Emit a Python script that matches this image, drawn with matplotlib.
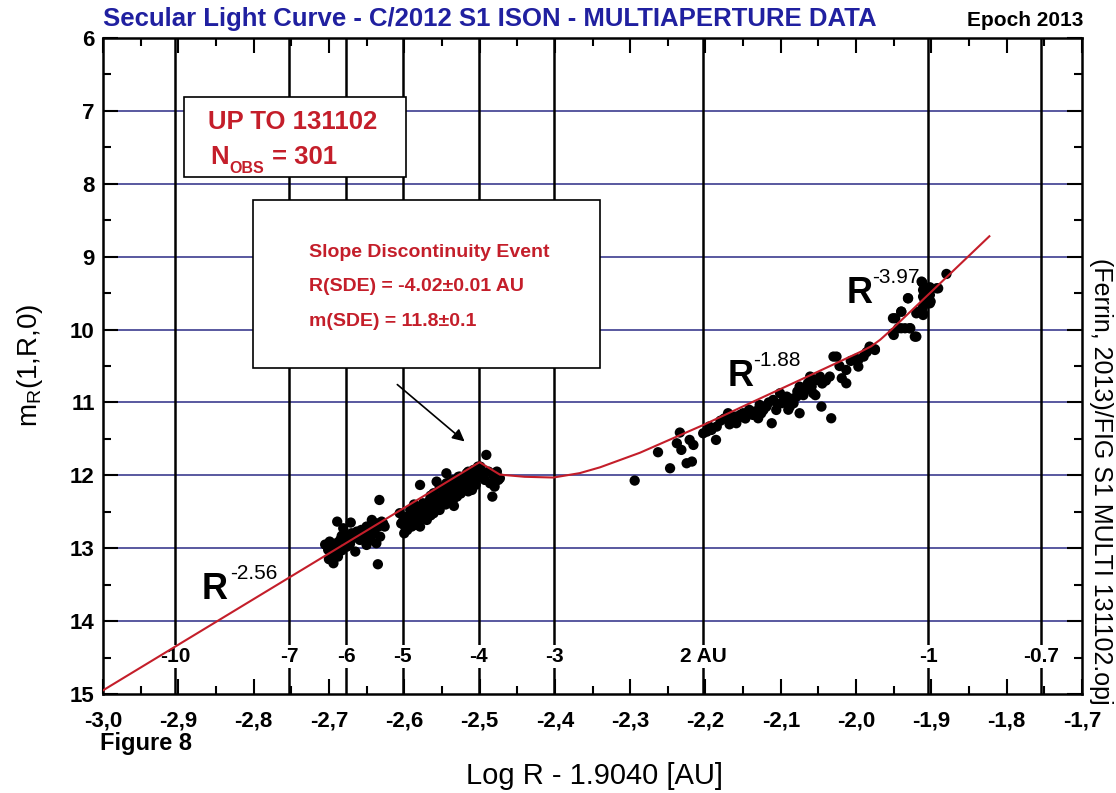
import matplotlib
matplotlib.use("Agg")
import matplotlib.pyplot as plt
from matplotlib.patches import Rectangle
from matplotlib.ticker import MultipleLocator, FuncFormatter

# observations: log R - 1.904, reduced magnitude
obs_x = [-2.689, -2.681, -2.671, -2.699, -2.692, -2.685, -2.676, -2.670, -2.663, -2.657,
         -2.650, -2.643, -2.637, -2.630, -2.626, -2.652, -2.645, -2.637, -2.650, -2.665,
         -2.694, -2.694, -2.688, -2.701, -2.676, -2.633, -2.635, -2.659, -2.639, -2.632,
         -2.705, -2.698, -2.690, -2.683, -2.678, -2.668, -2.661, -2.655, -2.647, -2.641,
         -2.634, -2.628, -2.683, -2.672, -2.700,
         -2.579, -2.606, -2.601, -2.599, -2.600, -2.592, -2.588, -2.584, -2.579, -2.575,
         -2.570, -2.566, -2.561, -2.557, -2.553, -2.548, -2.544, -2.539, -2.535, -2.530,
         -2.526, -2.522, -2.517, -2.513, -2.508, -2.504, -2.502, -2.534, -2.579, -2.570,
         -2.561, -2.553, -2.590, -2.584, -2.544, -2.530, -2.519, -2.510, -2.544, -2.557,
         -2.604, -2.597, -2.595, -2.590, -2.586, -2.582, -2.577, -2.573, -2.568, -2.564,
         -2.560, -2.555, -2.551, -2.547, -2.542, -2.538, -2.533, -2.528, -2.524, -2.520,
         -2.515, -2.511, -2.506, -2.503, -2.596, -2.585, -2.575, -2.565, -2.555, -2.545,
         -2.535, -2.525, -2.515, -2.505, -2.587, -2.565, -2.550, -2.540, -2.528, -2.515,
         -2.491, -2.499, -2.495, -2.488, -2.482, -2.475, -2.480, -2.486, -2.493, -2.483,
         -2.473, -2.477,
         -2.294, -2.263, -2.247, -2.234, -2.238, -2.232, -2.225, -2.218, -2.221, -2.216,
         -2.203, -2.198, -2.192, -2.185, -2.186, -2.170, -2.165, -2.161, -2.154, -2.150,
         -2.159, -2.137, -2.130, -2.128, -2.123, -2.119, -2.112, -2.110, -2.106, -2.101,
         -2.099, -2.092, -2.088, -2.083, -2.079, -2.075, -2.075, -2.068, -2.064, -2.061,
         -2.057, -2.052, -2.048, -2.046, -2.035, -2.033, -2.030, -2.026, -2.019, -2.013,
         -2.013, -1.997, -1.997, -1.990, -1.982, -1.975, -1.951, -1.940, -1.931, -1.951,
         -1.940, -1.929, -1.922, -1.913, -1.911, -1.909, -1.904, -1.902, -1.911, -1.917,
         -1.893,
         -2.195, -2.180, -2.175, -2.168, -2.157, -2.147, -2.142, -2.133, -2.126, -2.116,
         -2.104, -2.096, -2.090, -2.085, -2.078, -2.070, -2.066, -2.059, -2.054, -2.045,
         -2.040, -2.022, -2.007, -2.000, -1.986,
         -1.880, -1.912, -1.909, -1.902, -1.891, -1.911, -1.902, -1.901, -1.911, -1.920,
         -1.911, -1.931, -1.940, -1.948, -1.944, -1.935, -1.928, -1.950, -1.920, -1.982,
         -1.975]
obs_m = [12.635, 12.726, 12.648, 12.909, 12.978, 12.886, 12.841, 12.795, 12.772, 12.749,
         12.703, 12.612, 12.658, 12.635, 12.703, 12.818, 12.886, 12.932, 12.955, 13.046,
         13.092, 13.206, 13.115, 13.023, 12.978, 12.338, 13.220, 12.886, 12.795, 12.841,
         12.95, 13.00, 12.93, 12.83, 12.90, 12.86, 12.82, 12.88, 12.76, 12.72,
         12.70, 12.66, 13.03, 12.94, 13.15,
         12.132, 12.520, 12.612, 12.703, 12.795, 12.475, 12.520, 12.429, 12.566, 12.383,
         12.475, 12.338, 12.246, 12.383, 12.155, 12.292, 12.109, 12.246, 12.063, 12.155,
         12.018, 12.109, 11.972, 12.063, 11.926, 12.018, 11.880, 12.420, 12.703, 12.612,
         12.520, 12.475, 12.703, 12.612, 12.338, 12.292, 12.200, 12.200, 11.972, 12.086,
         12.66, 12.57, 12.65, 12.55, 12.47, 12.52, 12.45, 12.50, 12.40, 12.43,
         12.33, 12.30, 12.36, 12.22, 12.25, 12.18, 12.21, 12.10, 12.15, 12.05,
         12.12, 12.00, 12.08, 11.95, 12.75, 12.68, 12.58, 12.55, 12.45, 12.40,
         12.33, 12.25, 12.22, 12.13, 12.40, 12.28, 12.18, 12.10, 12.02, 11.95,
         11.720, 11.880, 11.972, 11.949, 11.995, 12.063, 12.155, 12.109, 12.063, 12.292,
         12.040, 11.949,
         12.072, 11.683, 11.903, 11.413, 11.560, 11.651, 11.834, 11.811, 11.514, 11.583,
         11.423, 11.400, 11.377, 11.331, 11.514, 11.148, 11.263, 11.194, 11.171, 11.148,
         11.285, 11.171, 11.217, 11.034, 11.103, 11.057, 11.285, 10.965, 11.103, 10.874,
         11.011, 10.920, 11.057, 11.011, 10.920, 11.148, 10.783, 10.828, 10.737, 10.645,
         10.874, 10.691, 10.645, 11.057, 10.645, 11.217, 10.371, 10.371, 10.668, 10.554,
         10.737, 10.417, 10.508, 10.371, 10.257, 10.280, 9.845, 9.754, 9.571, 10.051,
         9.982, 9.982, 10.097, 9.342, 9.457, 9.594, 9.502, 9.640, 9.800, 9.754,
         9.434,
         11.33, 11.25, 11.22, 11.30, 11.22, 11.22, 11.10, 11.12, 11.15, 11.00,
         11.02, 10.97, 11.10, 10.95, 10.85, 10.90, 10.80, 10.78, 10.90, 10.74,
         10.70, 10.50, 10.43, 10.40, 10.31,
         9.237, 9.356, 9.447, 9.420, 9.434, 9.548, 9.525, 9.616, 9.685, 9.777,
         9.777, 9.571, 9.754, 9.845, 9.982, 9.982, 9.982, 10.074, 10.097, 10.234,
         10.270]

# fitted secular light curve
fit_x = [-3.0, -2.5, -2.473, -2.44, -2.402, -2.367, -2.34, -2.287, -2.234, -2.203,
         -2.141, -2.074, -1.995, -1.98, -1.968, -1.955, -1.902, -1.823]
fit_m = [14.95, 11.82, 11.99, 12.02, 12.03, 11.97, 11.89, 11.69, 11.45, 11.31,
         11.01, 10.69, 10.31, 10.23, 10.14, 10.02, 9.50, 8.72]

# reference lines and their labels
ref_x = [-2.904, -2.753, -2.677, -2.602, -2.501, -2.401, -2.203, -1.904, -1.754]
ref_lbl = ["-10", "-7", "-6", "-5", "-4", "-3", "2 AU", "-1", "-0.7"]

y_grid = [7, 8, 9, 10, 11, 12, 13, 14]

RED = "#c41e2a"
NAVY = "#2b2b85"

plt.rcParams["font.family"] = ["Liberation Sans", "DejaVu Sans"]

fig = plt.figure(figsize=(11.16, 7.93), dpi=100)
ax = fig.add_axes([103 / 1116, 1 - 694 / 793, 979 / 1116, 656 / 793])
ax.set_xlim(-3.0, -1.7)
ax.set_ylim(15, 6)

for yv in y_grid:
    ax.axhline(yv, color=NAVY, lw=1.1, zorder=1)
for xv, lb in zip(ref_x, ref_lbl):
    ax.axvline(xv, color="black", lw=1.8, zorder=1.5)
    ax.text(xv, 14.48, lb, ha="center", va="center", fontsize=15, fontweight="bold",
            bbox=dict(facecolor="white", edgecolor="none", pad=1.5), zorder=2)

ax.plot(fit_x, fit_m, color=RED, lw=1.5, zorder=4)
ax.scatter(obs_x, obs_m, s=55, color="black", edgecolors="none", zorder=3)

# boxes
ax.add_patch(Rectangle((-2.892, 6.81), 0.294, 1.10, facecolor="white", edgecolor="black", lw=1.2, zorder=5))
ax.text(-2.860, 7.25, "UP TO 131102", color=RED, fontsize=18.5, fontweight="bold", va="baseline", zorder=6)
ax.text(-2.858, 7.73, "N", color=RED, fontsize=18.5, fontweight="bold", va="baseline", zorder=6)
ax.text(-2.832, 7.85, "OBS", color=RED, fontsize=11.5, fontweight="bold", va="baseline", zorder=6)
ax.text(-2.776, 7.73, "= 301", color=RED, fontsize=18.5, fontweight="bold", va="baseline", zorder=6)

ax.add_patch(Rectangle((-2.801, 8.22), 0.461, 2.31, facecolor="white", edgecolor="black", lw=1.2, zorder=5))
for yy, s in zip([9.00, 9.47, 9.95], ["Slope Discontinuity Event", "R(SDE) = -4.02\u00b10.01 AU", "m(SDE) = 11.8\u00b10.1"]):
    ax.text(-2.726, yy, s, color=RED, fontsize=14, fontweight="bold", va="baseline", zorder=6)

ax.annotate("", xy=(-2.517, 11.56), xytext=(-2.612, 10.73),
            arrowprops=dict(arrowstyle="-|>", color="black", lw=1.2, mutation_scale=18), zorder=6)

# power law labels
for (rx, ry, ex, ey, e) in [(-2.869, 13.70, -2.831, 13.42, "-2.56"),
                            (-2.170, 10.77, -2.137, 10.50, "-1.88"),
                            (-2.012, 9.635, -1.979, 9.36, "-3.97")]:
    ax.text(rx, ry, "R", fontsize=26, fontweight="bold", va="baseline", zorder=6)
    ax.text(ex, ey, e, fontsize=15, va="baseline", zorder=6)

# ticks
ax.xaxis.set_major_locator(MultipleLocator(0.1))
ax.xaxis.set_minor_locator(MultipleLocator(0.05))
ax.yaxis.set_major_locator(MultipleLocator(1))
ax.yaxis.set_minor_locator(MultipleLocator(0.5))
ax.xaxis.set_major_formatter(FuncFormatter(lambda v, p: f"{v:.1f}".replace(".", ",")))
ax.tick_params(which="both", direction="in", top=True, right=True, width=1.5, color="black")
ax.tick_params(which="major", length=11)
ax.tick_params(which="minor", length=6)
ax.tick_params(axis="x", pad=12)
ax.tick_params(axis="y", pad=6)
for lab in ax.get_xticklabels() + ax.get_yticklabels():
    lab.set_fontweight("bold")
    lab.set_fontsize(16)
for sp in ax.spines.values():
    sp.set_linewidth(1.8)

fig.text(103 / 1116, 1 - 26 / 793, "Secular Light Curve - C/2012 S1 ISON - MULTIAPERTURE DATA",
         color="#2020a0", fontsize=18.5, fontweight="bold", va="baseline", ha="left")
fig.text(1083 / 1116, 1 - 26 / 793, "Epoch 2013", fontsize=15, fontweight="bold",
         va="baseline", ha="right")
fig.text(100 / 1116, 1 - 750 / 793, "Figure 8", fontsize=17, fontweight="bold", va="baseline")
fig.text(595 / 1116, 1 - 784 / 793, "Log R - 1.9040 [AU]", fontsize=21,
         va="baseline", ha="center")
fig.text(30 / 1116, 1 - 365 / 793, r"m$_\mathregular{R}$(1,R,0)", fontsize=20, rotation=90,
         ha="center", va="center")
fig.text(1101 / 1116, 1 - 258 / 793, "(Ferrin, 2013)/FIG S1 MULTI 131102.opj", fontsize=18,
         rotation=-90, ha="center", va="top")

fig.savefig("out.png", dpi=100)
